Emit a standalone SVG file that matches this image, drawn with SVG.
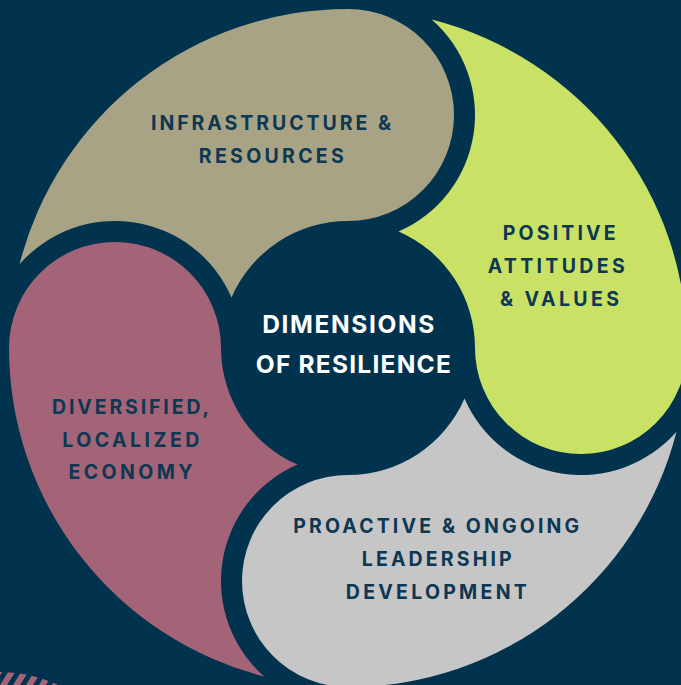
<svg xmlns="http://www.w3.org/2000/svg" width="681" height="685" viewBox="0 0 681 685">
  <style>
    .bg { fill: #01334E; }
    .lbl { font-family: Inter, "Noto Sans", "Liberation Sans", sans-serif; font-weight: 700; font-size: 19.5px; fill: #0D3753; text-anchor: middle; }
    .ctr { font-family: Inter, "Noto Sans", "Liberation Sans", sans-serif; font-weight: 700; font-size: 24.5px; fill: #FFFFFF; text-anchor: middle; }
  </style>
  <defs>
    <path id="petal" d="M -328.5 -83.72 A 339 339 0 0 1 0 -339 A 106 106 0 0 1 106 -233 A 106 106 0 0 1 0 -127 A 127 127 0 0 0 -116.5 -50.56 A 127 127 0 0 0 -328.5 -83.72 Z"/>
    <pattern id="stripes" width="11" height="20" patternUnits="userSpaceOnUse" patternTransform="rotate(32)">
      <rect x="0" y="0" width="6" height="20" fill="#A36477"/>
    </pattern>
  </defs>
  <rect class="bg" x="0" y="0" width="681" height="685"/>
  <g id="decor">
    <circle cx="0" cy="807" r="135" fill="url(#stripes)"/>
  </g>
  <g id="connectors"></g>
  <g id="node-infrastructure">
    <use href="#petal" transform="translate(348,348)" fill="#A8A384"/>
    <text class="lbl" x="271" y="129.5" textLength="240" lengthAdjust="spacing">INFRASTRUCTURE &amp;</text>
    <text class="lbl" x="271.3" y="162.7" textLength="145" lengthAdjust="spacing">RESOURCES</text>
  </g>
  <g id="node-attitudes">
    <use href="#petal" transform="translate(348,348) rotate(90)" fill="#C9E265"/>
    <text class="lbl" x="559.2" y="240" textLength="113" lengthAdjust="spacing">POSITIVE</text>
    <text class="lbl" x="556.2" y="273.3" textLength="137" lengthAdjust="spacing">ATTITUDES</text>
    <text class="lbl" x="559.5" y="306" textLength="119" lengthAdjust="spacing">&amp; VALUES</text>
  </g>
  <g id="node-leadership">
    <use href="#petal" transform="translate(348,348) rotate(180)" fill="#C6C6C6"/>
    <text class="lbl" x="436.2" y="533.3" textLength="286" lengthAdjust="spacing">PROACTIVE &amp; ONGOING</text>
    <text class="lbl" x="436.7" y="566" textLength="150" lengthAdjust="spacing">LEADERSHIP</text>
    <text class="lbl" x="436.3" y="599" textLength="181" lengthAdjust="spacing">DEVELOPMENT</text>
  </g>
  <g id="node-economy">
    <use href="#petal" transform="translate(348,348) rotate(270)" fill="#A36477"/>
    <text class="lbl" x="130.5" y="414" textLength="157" lengthAdjust="spacing">DIVERSIFIED,</text>
    <text class="lbl" x="130.8" y="446.7" textLength="137" lengthAdjust="spacing">LOCALIZED</text>
    <text class="lbl" x="130.5" y="479.3" textLength="124" lengthAdjust="spacing">ECONOMY</text>
  </g>
  <g id="node-center">
    <circle cx="348" cy="348" r="106" fill="#01334E"/>
    <text class="ctr" x="348.3" y="333.3" textLength="172" lengthAdjust="spacing">DIMENSIONS</text>
    <text class="ctr" x="353.3" y="372.7" textLength="195" lengthAdjust="spacing">OF RESILIENCE</text>
  </g>
</svg>
